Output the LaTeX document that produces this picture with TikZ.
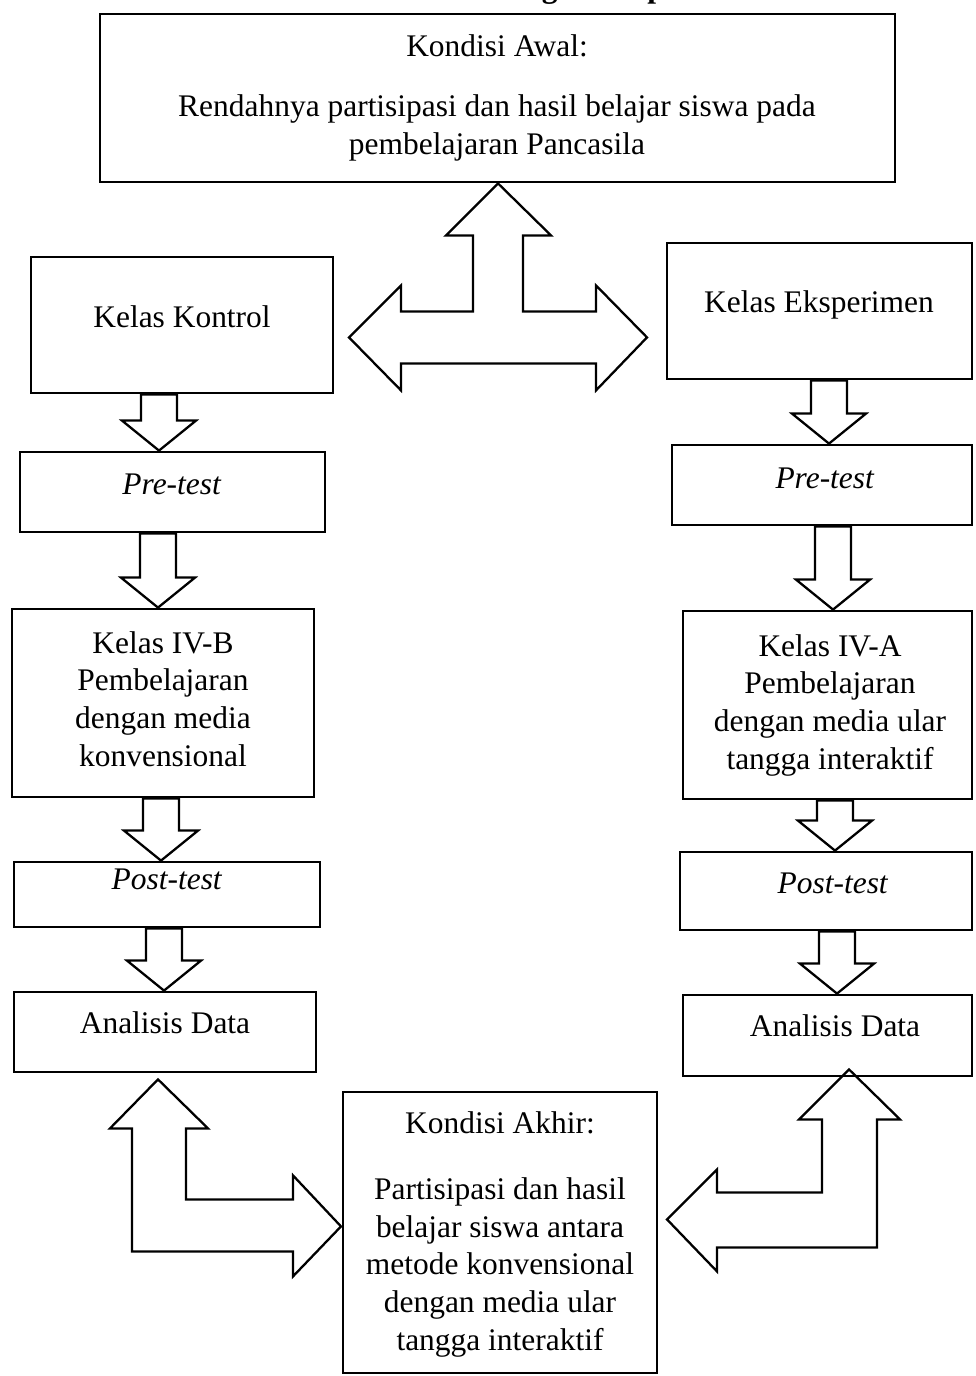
\documentclass[tikz,border=0pt]{standalone}
\usepackage{fontspec}
\setmainfont{Liberation Serif}
\usetikzlibrary{calc,fit}

% block arrow pointing down, #1 = x, from node #2 to node #3
\newcommand{\panahbawah}[3]{%
  \coordinate (pa) at (#1,0 |- #2.south);
  \coordinate (pb) at (#1,0 |- #3.north);
  \draw[panah] ($(pa)+(-18,0)$) -- ($(pa)+(18,0)$) -- ($(pb)+(18,-30)$) -- ($(pb)+(37,-30)$) -- (pb) -- ($(pb)+(-37,-30)$) -- ($(pb)+(-18,-30)$) -- cycle;
}

\begin{document}
\begin{tikzpicture}[x=0.02cm, y=-0.02cm, font=\fontsize{17.9}{21.4}\selectfont,
  kotak/.style={draw, line width=1.6pt, inner sep=0pt},
  teks/.style={align=center, inner sep=0pt, anchor=base},
  panah/.style={draw, line width=1.3pt, line join=miter}]

\useasboundingbox (0,0) rectangle (976,1376);

\node[teks, font=\fontsize{17.9}{21.4}\selectfont\bfseries] (judul) at (585,-3) {Kerangka Berpikir};

% boxes
\node[kotak, fit={(100,14) (895,182)}] (awal) {};
\node[kotak, fit={(31,257) (333,393)}] (kontrol) {};
\node[kotak, fit={(667,243) (972,379)}] (eksperimen) {};
\node[kotak, fit={(20,452) (325,532)}] (prekiri) {};
\node[kotak, fit={(672,445) (972,525)}] (prekanan) {};
\node[kotak, fit={(12,609) (314,797)}] (ivb) {};
\node[kotak, fit={(683,611) (972,799)}] (iva) {};
\node[kotak, fit={(14,862) (320,927)}] (postkiri) {};
\node[kotak, fit={(680,852) (972,930)}] (postkanan) {};
\node[kotak, fit={(14,992) (316,1072)}] (anakiri) {};
\node[kotak, fit={(683,995) (972,1076)}] (anakanan) {};
\node[kotak, fit={(343,1092) (657,1373)}] (akhir) {};

% texts (multi-line: base = last line)
\node[teks] (awal-1) at (497,56) {Kondisi Awal:};
\node[teks] (awal-2) at (497,154) {Rendahnya partisipasi dan hasil belajar siswa pada\\ pembelajaran Pancasila};
\node[teks] (kontrol-t) at (182,327) {Kelas Kontrol};
\node[teks] (eksperimen-t) at (819,312) {Kelas Eksperimen};
\node[teks] (prekiri-t) at (172,494) {\textit{Pre-test}};
\node[teks] (prekanan-t) at (825,488) {\textit{Pre-test}};
\node[teks] (ivb-t) at (163,766) {Kelas IV-B\\ Pembelajaran\\ dengan media\\ konvensional};
\node[teks] (iva-t) at (830,769) {Kelas IV-A\\ Pembelajaran\\ dengan media ular\\ tangga interaktif};
\node[teks] (postkiri-t) at (167,889) {\textit{Post-test}};
\node[teks] (postkanan-t) at (833,893) {\textit{Post-test}};
\node[teks] (anakiri-t) at (165,1033) {Analisis Data};
\node[teks] (anakanan-t) at (835,1036) {Analisis Data};
\node[teks] (akhir-1) at (500,1133) {Kondisi Akhir:};
\node[teks] (akhir-2) at (500,1350) {Partisipasi dan hasil\\ belajar siswa antara\\ metode konvensional\\ dengan media ular\\ tangga interaktif};

% down arrows
\panahbawah{159}{kontrol}{prekiri}
\panahbawah{158}{prekiri}{ivb}
\panahbawah{161}{ivb}{postkiri}
\panahbawah{164}{postkiri}{anakiri}
\panahbawah{829}{eksperimen}{prekanan}
\panahbawah{833}{prekanan}{iva}
\panahbawah{835}{iva}{postkanan}
\panahbawah{837}{postkanan}{anakanan}

% three way arrow
\coordinate (tpuncak) at (498,0 |- awal.south);
\draw[panah] (tpuncak) -- ++(53,52) -- ++(-28,0) -- ++(0,76) -- ++(73,0) -- ++(0,-26) -- ++(51,52) -- ++(-51,53) -- ++(0,-27) -- ++(-195,0) -- ++(0,27) -- ++(-52,-53) -- ++(52,-52) -- ++(0,26) -- ++(72,0) -- ++(0,-76) -- ++(-27,0) -- cycle;

% bent arrows to the final condition
\coordinate (lkiri) at ($(158,0 |- anakiri.south)+(0,6)$);
\draw[panah] (lkiri) -- ++(50,49) -- ++(-22,0) -- ++(0,71) -- ++(107,0) -- ++(0,-24) -- ++(48,51) -- ++(-48,50) -- ++(0,-25) -- ++(-161,0) -- ++(0,-123) -- ++(-22,0) -- cycle;

\coordinate (lkanan) at ($(849,0 |- anakanan.south)+(0,-8)$);
\draw[panah] (lkanan) -- ++(51,50) -- ++(-23,0) -- ++(0,128) -- ++(-160,0) -- ++(0,24) -- ++(-50,-52) -- ++(50,-50) -- ++(0,23) -- ++(105,0) -- ++(0,-73) -- ++(-23,0) -- cycle;

\end{tikzpicture}
\end{document}
